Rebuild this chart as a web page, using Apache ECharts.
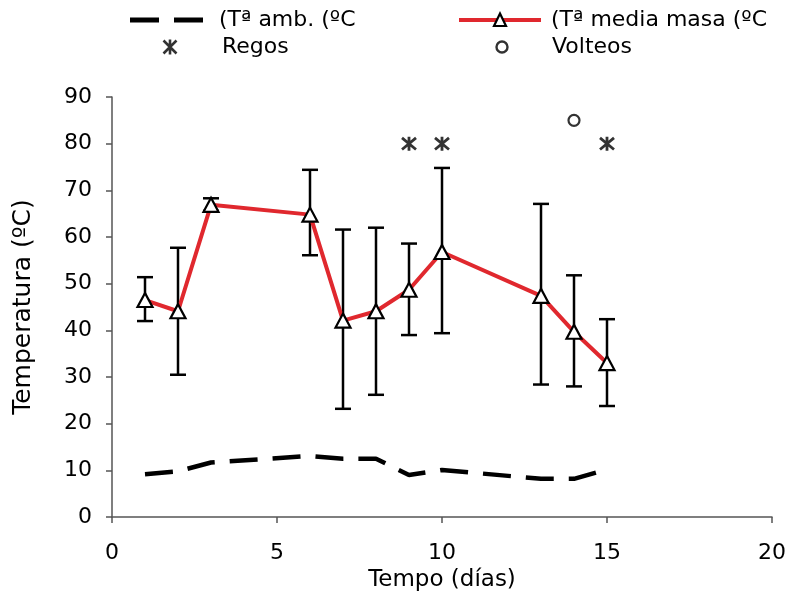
<!DOCTYPE html>
<html>
<head>
<meta charset="utf-8">
<script src="https://cdn.jsdelivr.net/npm/echarts@6/dist/echarts.min.js"></script>
<style>
html,body{margin:0;padding:0;background:#fff;}
#main{width:789px;height:597px;}
</style>
</head>
<body>
<div id="main"></div>
<script>
// ---- data ----
var days = [1, 2, 3, 6, 7, 8, 9, 10, 13, 14, 15];
var tempAmb = [9.2, 9.8, 11.7, 13.1, 12.5, 12.5, 9.0, 10.1, 8.2, 8.2, 10.2];
var tempMasa = [46.5, 44.1, 66.9, 64.8, 42.1, 44.1, 48.7, 56.8, 47.4, 39.7, 33.0];
var errLow = [42.0, 30.5, 65.6, 56.1, 23.2, 26.2, 39.0, 39.4, 28.4, 28.0, 23.8];
var errHigh = [51.4, 57.7, 68.3, 74.4, 61.6, 62.0, 58.6, 74.8, 67.1, 51.8, 42.4];
var regosDays = [9, 10, 15];
var regosY = [80, 80, 80];
var volteosDays = [14];
var volteosY = [85];

var nameAmb = '(T\u00aa amb. (\u00baC';
var nameMasa = '(T\u00aa media masa (\u00baC';
var nameRegos = 'Regos';
var nameVolteos = 'Volteos';

function zip(a, b) { return a.map(function (v, i) { return [v, b[i]]; }); }
var errData = days.map(function (d, i) { return [d, errLow[i], errHigh[i]]; });

var FONT = 'DejaVu Sans';
var starPath = 'path://M0,0 L10,10 M10,0 L0,10 M5,-1 L5,11';

// legend icons drawn on small canvases
function makeIcon(w, h, draw) {
  var c = document.createElement('canvas');
  c.width = w; c.height = h;
  var g = c.getContext('2d');
  draw(g, w, h);
  return 'image://' + c.toDataURL();
}
var iconAmb = makeIcon(80, 24, function (g, w, h) {
  g.fillStyle = '#000';
  g.fillRect(0, h / 2 - 2.5, 29, 5);
  g.fillRect(44, h / 2 - 2.5, 29, 5);
});
var iconMasa = makeIcon(84, 24, function (g, w, h) {
  g.fillStyle = '#e0282e';
  g.fillRect(1, h / 2 - 2, 82, 4);
  g.beginPath();
  g.moveTo(42, h / 2 - 6.5);
  g.lineTo(48, h / 2 + 6);
  g.lineTo(36, h / 2 + 6);
  g.closePath();
  g.fillStyle = '#fff';
  g.fill();
  g.lineWidth = 2.2;
  g.strokeStyle = '#000';
  g.stroke();
});
var iconRegos = makeIcon(86, 24, function (g, w, h) {
  g.strokeStyle = '#000';
  g.lineWidth = 2.6;
  var cx = 43, cy = h / 2, r = 6.5;
  g.beginPath();
  g.moveTo(cx - r, cy - r); g.lineTo(cx + r, cy + r);
  g.moveTo(cx + r, cy - r); g.lineTo(cx - r, cy + r);
  g.moveTo(cx, cy - r - 1); g.lineTo(cx, cy + r + 1);
  g.stroke();
});
var iconVolteos = makeIcon(82, 24, function (g, w, h) {
  g.strokeStyle = '#000';
  g.lineWidth = 2.4;
  g.beginPath();
  g.arc(41, h / 2, 5.5, 0, Math.PI * 2);
  g.stroke();
});

var chart = echarts.init(document.getElementById('main'));
var legendText = { fontFamily: FONT, fontSize: 22, color: '#000', lineHeight: 24, padding: [0, 0, 0, 4] };
function leg(name, icon, left, top, w) {
  return {
    data: [{ name: name, icon: icon }], left: left, top: top,
    itemWidth: w, itemHeight: 24, itemGap: 0, padding: 0,
    symbolKeepAspect: false,
    textStyle: legendText, selectedMode: false
  };
}
chart.setOption({
  animation: false,
  backgroundColor: '#fff',
  textStyle: { fontFamily: FONT },
  legend: [
    leg(nameAmb, iconAmb, 130, 8, 80),
    leg(nameMasa, iconMasa, 458, 8, 84),
    leg(nameRegos, iconRegos, 127, 35, 86),
    leg(nameVolteos, iconVolteos, 461, 35, 82)
  ],
  grid: { left: 112, right: 16, top: 97, bottom: 78, containLabel: false },
  xAxis: {
    type: 'value', min: 0, max: 20, interval: 5,
    name: 'Tempo (d\u00edas)', nameLocation: 'middle', nameGap: 48,
    nameTextStyle: { fontFamily: FONT, fontSize: 23, color: '#000' },
    axisLine: { lineStyle: { color: '#555', width: 1.5 } },
    axisTick: { show: true, length: 6, lineStyle: { color: '#555', width: 1.5 } },
    axisLabel: { fontFamily: FONT, fontSize: 22, color: '#000', margin: 25 },
    splitLine: { show: false }
  },
  yAxis: {
    type: 'value', min: 0, max: 90, interval: 10,
    name: 'Temperatura (\u00baC)', nameLocation: 'middle', nameGap: 76, nameRotate: 90,
    nameTextStyle: { fontFamily: FONT, fontSize: 25, color: '#000' },
    axisLine: { show: true, lineStyle: { color: '#555', width: 1.5 } },
    axisTick: { show: true, length: 6, lineStyle: { color: '#555', width: 1.5 } },
    axisLabel: { fontFamily: FONT, fontSize: 22, color: '#000', margin: 20 },
    splitLine: { show: false }
  },
  series: [
    {
      name: nameAmb, type: 'line', data: zip(days, tempAmb),
      symbol: 'none', z: 3,
      lineStyle: { color: '#000', width: 4.5, type: [28, 15] },
      itemStyle: { color: '#000' }
    },
    {
      name: 'err', type: 'custom', data: errData, z: 4,
      renderItem: function (params, api) {
        var x = api.value(0);
        var lo = api.coord([x, api.value(1)]);
        var hi = api.coord([x, api.value(2)]);
        var hw = 8;
        var st = { stroke: '#000', lineWidth: 2.5 };
        return {
          type: 'group',
          children: [
            { type: 'line', shape: { x1: lo[0], y1: lo[1], x2: hi[0], y2: hi[1] }, style: st },
            { type: 'line', shape: { x1: lo[0] - hw, y1: lo[1], x2: lo[0] + hw, y2: lo[1] }, style: st },
            { type: 'line', shape: { x1: hi[0] - hw, y1: hi[1], x2: hi[0] + hw, y2: hi[1] }, style: st }
          ]
        };
      }
    },
    {
      name: nameMasa, type: 'line', data: zip(days, tempMasa), z: 5,
      symbol: 'triangle', symbolSize: [15, 14], showSymbol: true,
      lineStyle: { color: '#e0282e', width: 4 },
      itemStyle: { color: '#fff', borderColor: '#000', borderWidth: 2.2 }
    },
    {
      name: nameRegos, type: 'scatter', data: zip(regosDays, regosY), z: 5,
      symbol: starPath, symbolSize: 14,
      itemStyle: { color: 'none', borderColor: '#000', borderWidth: 2.8 }
    },
    {
      name: nameVolteos, type: 'scatter', data: zip(volteosDays, volteosY), z: 5,
      symbol: 'circle', symbolSize: 11,
      itemStyle: { color: '#fff', borderColor: '#000', borderWidth: 2.2 }
    }
  ]
});
</script>
</body>
</html>
